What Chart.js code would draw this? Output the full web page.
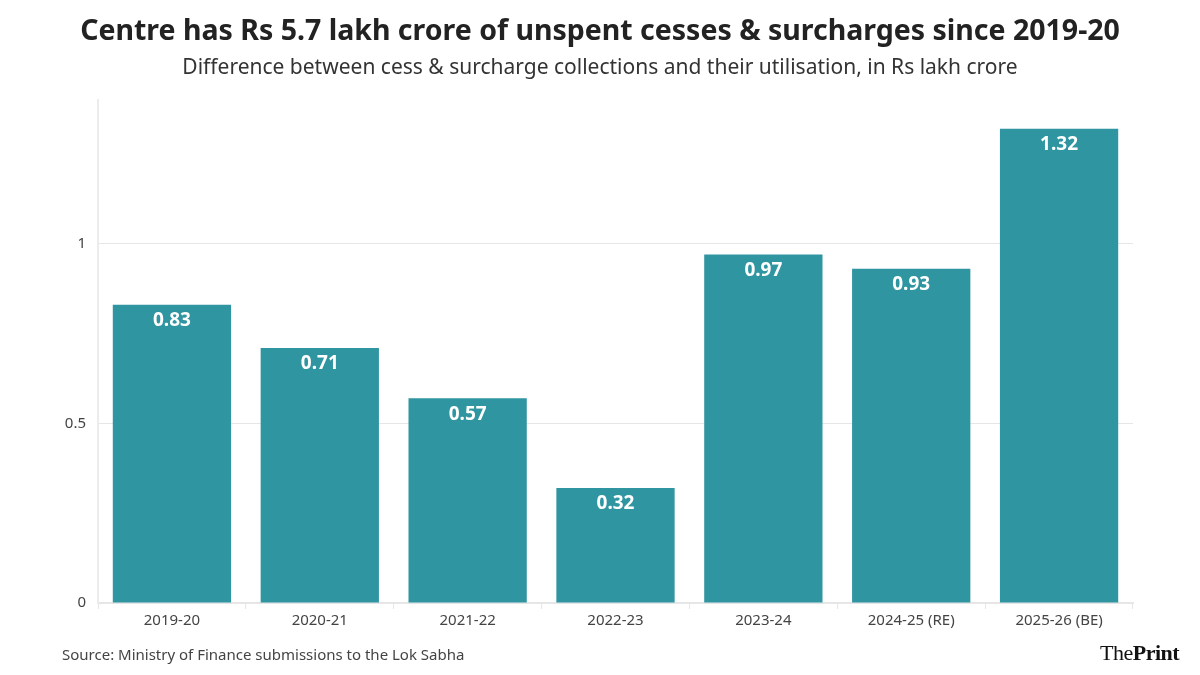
<!DOCTYPE html>
<html lang="en">
<head>
<meta charset="UTF-8">
<title>Unspent cesses and surcharges</title>
<script src="https://cdn.jsdelivr.net/npm/chart.js"></script>
<style>
    html, body {
        margin: 0;
        padding: 0;
        background: #ffffff;
    }
    .wrap {
        position: relative;
        width: 1200px;
        height: 675px;
        font-family: "Noto Sans", Arial, sans-serif;
    }
    canvas {
        position: absolute;
        left: 0;
        top: 0;
    }
    .title {
        position: absolute;
        top: 10px;
        left: 0;
        width: 1200px;
        text-align: center;
        font-size: 28.5px;
        font-weight: bold;
        color: #222;
    }
    .subtitle {
        position: absolute;
        top: 52px;
        left: 0;
        width: 1200px;
        text-align: center;
        font-size: 21px;
        color: #333;
    }
    .source {
        position: absolute;
        top: 644px;
        left: 62px;
        font-size: 15px;
        color: #444;
    }
    .logo {
        position: absolute;
        top: 640px;
        left: 1100px;
        font-family: "Liberation Serif", "DejaVu Serif", serif;
        font-size: 22px;
        color: #111;
        letter-spacing: -0.5px;
    }
    .logo b { font-weight: bold; }
</style>
</head>
<body>
<div class="wrap">
    <canvas id="chart" width="1200" height="675"></canvas>
    <div class="title">Centre has Rs 5.7 lakh crore of unspent cesses &amp; surcharges since 2019-20</div>
    <div class="subtitle">Difference between cess &amp; surcharge collections and their utilisation, in Rs lakh crore</div>
    <div class="source">Source: Ministry of Finance submissions to the Lok Sabha</div>
    <div class="logo">The<b>Print</b></div>
</div>
<script>
    const years = ["2019-20", "2020-21", "2021-22", "2022-23", "2023-24", "2024-25 (RE)", "2025-26 (BE)"];
    const unspent = [0.83, 0.71, 0.57, 0.32, 0.97, 0.93, 1.32];
    const yTicks = [0, 0.5, 1];

    // white value labels inside the top of each bar
    const barLabels = {
        id: "barLabels",
        afterDatasetsDraw(chart) {
            const ctx = chart.ctx;
            const meta = chart.getDatasetMeta(0);
            ctx.save();
            ctx.fillStyle = "#ffffff";
            ctx.font = "bold 19px 'Noto Sans', Arial, sans-serif";
            ctx.textAlign = "center";
            ctx.textBaseline = "middle";
            meta.data.forEach((bar, i) => {
                ctx.fillText(unspent[i].toFixed(2), bar.x, bar.y + 16);
            });
            ctx.restore();
        }
    };

    new Chart(document.getElementById("chart"), {
        type: "bar",
        data: {
            labels: years,
            datasets: [{
                data: unspent,
                backgroundColor: "#2f95a1",
                barPercentage: 0.8,
                categoryPercentage: 1.0
            }]
        },
        options: {
            responsive: false,
            animation: false,
            devicePixelRatio: 1,
            layout: { padding: { top: 100, right: 67, left: 0, bottom: 0 } },
            plugins: {
                legend: { display: false },
                tooltip: { enabled: false }
            },
            scales: {
                x: {
                    afterFit: s => { s.height = 72; },
                    grid: {
                        drawOnChartArea: false,
                        drawTicks: true,
                        tickLength: 6,
                        color: "#e6e6e6"
                    },
                    border: { color: "#e6e6e6", width: 2 },
                    ticks: {
                        padding: 3,
                        color: "#444",
                        font: { size: 15, family: "'Noto Sans', Arial, sans-serif" }
                    }
                },
                y: {
                    min: 0,
                    max: 1.4,
                    afterFit: s => { s.width = 98; },
                    afterBuildTicks: s => {
                        s.ticks = yTicks.map(v => ({ value: v }));
                    },
                    grid: {
                        color: "#e6e6e6",
                        drawTicks: false
                    },
                    border: { color: "#ececec", width: 2 },
                    ticks: {
                        padding: 12,
                        color: "#444",
                        font: { size: 15, family: "'Noto Sans', Arial, sans-serif" },
                        callback: v => String(v)
                    }
                }
            }
        },
        plugins: [barLabels]
    });
</script>
</body>
</html>
